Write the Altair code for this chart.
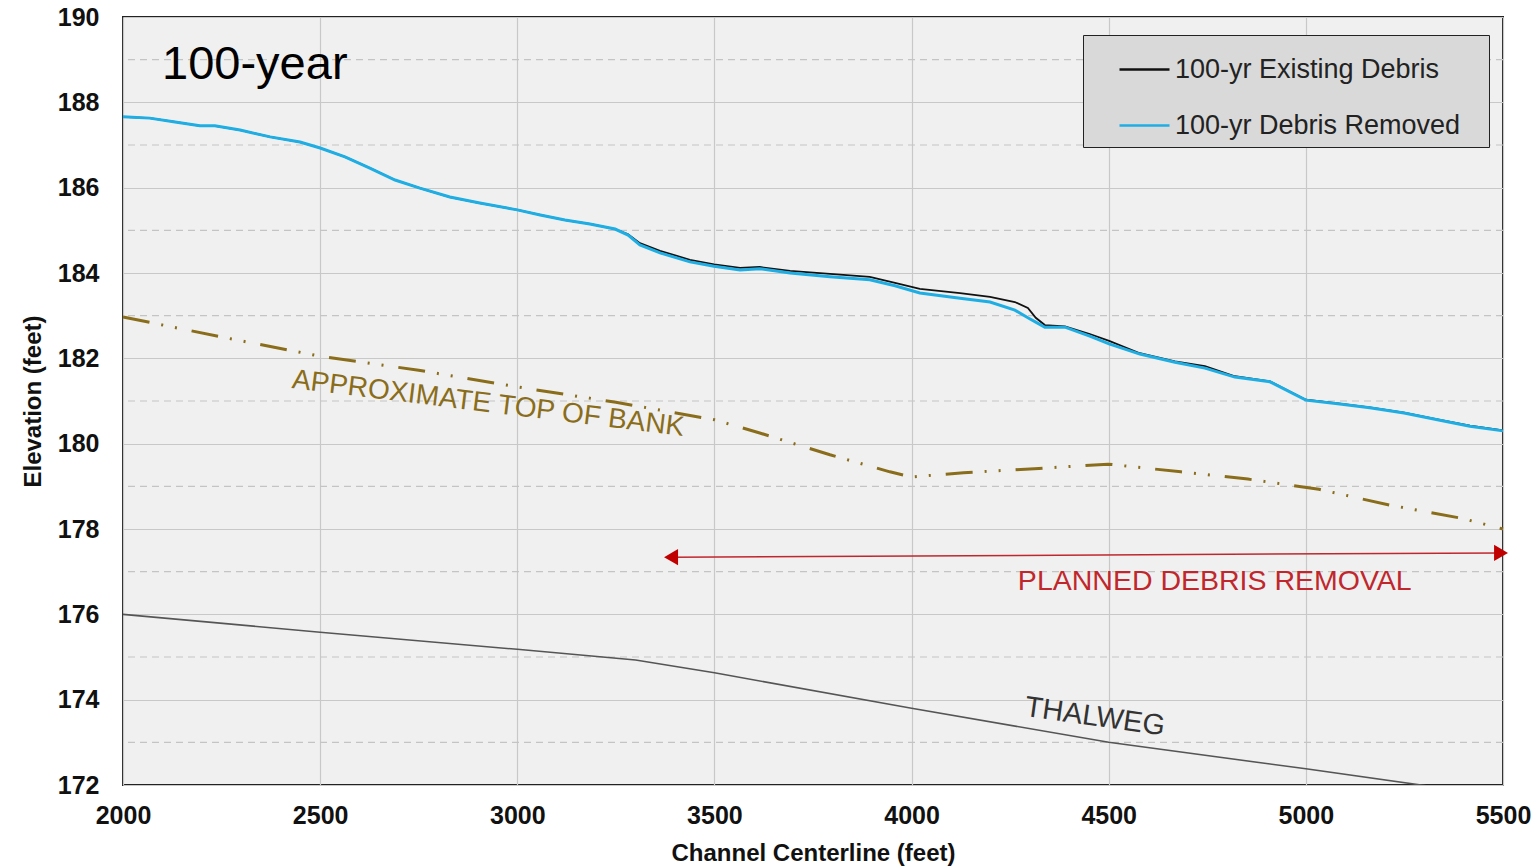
import altair as alt
import pandas as pd

# ---- data ----
ws_x = [2000, 2068, 2132, 2195, 2233, 2297, 2373, 2449, 2500, 2563, 2626, 2690, 2753, 2829, 2905,
        3000, 3058, 3121, 3184, 3248, 3281, 3311, 3362, 3438, 3499, 3565, 3615, 3692, 3793, 3894,
        3958, 4021, 4123, 4199, 4262, 4295, 4315, 4338, 4389, 4452, 4501, 4579, 4668, 4744, 4820,
        4909, 5000, 5086, 5162, 5249, 5340, 5416, 5500]
removed_y = [187.66, 187.63, 187.54, 187.45, 187.45, 187.35, 187.19, 187.07, 186.93, 186.72, 186.46,
             186.18, 185.99, 185.78, 185.64, 185.48, 185.36, 185.24, 185.15, 185.03, 184.89, 184.66,
             184.47, 184.26, 184.16, 184.07, 184.10, 184.00, 183.91, 183.84, 183.70, 183.53, 183.41,
             183.32, 183.13, 182.95, 182.85, 182.73, 182.73, 182.52, 182.34, 182.10, 181.91, 181.77,
             181.56, 181.45, 181.02, 180.93, 180.84, 180.72, 180.55, 180.41, 180.30]
existing_y = [187.66, 187.63, 187.54, 187.45, 187.45, 187.35, 187.19, 187.07, 186.93, 186.72, 186.46,
              186.18, 185.99, 185.78, 185.64, 185.48, 185.36, 185.24, 185.15, 185.03, 184.91, 184.70,
              184.52, 184.31, 184.20, 184.12, 184.14, 184.05, 183.98, 183.91, 183.77, 183.63, 183.53,
              183.44, 183.32, 183.18, 182.95, 182.78, 182.75, 182.57, 182.41, 182.12, 181.93, 181.82,
              181.58, 181.46, 181.03, 180.94, 180.85, 180.73, 180.56, 180.42, 180.31]
series_names = ["100-yr Existing Debris", "100-yr Debris Removed"]
series_colors = ["#111111", "#1eaee4"]

bank_x = [2000, 2250, 2500, 2750, 3000, 3250, 3500, 3615, 3793, 3945, 4000, 4132, 4323, 4498,
          4683, 4853, 5033, 5213, 5396, 5500]
bank_y = [182.97, 182.50, 182.05, 181.72, 181.33, 180.97, 180.56, 180.25, 179.74, 179.34, 179.22,
          179.32, 179.42, 179.52, 179.34, 179.17, 178.93, 178.56, 178.25, 178.00]

thalweg_x = [2000, 2500, 3000, 3300, 3500, 4000, 4500, 5000, 5330, 5500]
thalweg_y = [176.0, 175.58, 175.18, 174.93, 174.63, 173.80, 173.0, 172.38, 171.95, 171.72]

arrow_x = [3390, 5495]
arrow_y = [177.34, 177.44]

odd_grid = [173, 175, 177, 179, 181, 183, 185, 187, 189]
y_ticks = [172, 174, 176, 178, 180, 182, 184, 186, 188, 190]
x_ticks = [2000, 2500, 3000, 3500, 4000, 4500, 5000, 5500]

notes_text = ["APPROXIMATE TOP OF BANK", "THALWEG", "PLANNED DEBRIS REMOVAL"]
notes_x = [2926, 4465, 4769]
notes_y = [180.93, 173.6, 176.78]
notes_angle = [7, 8, 0]
notes_color = ["#8a6d1a", "#333333", "#c0272d"]
notes_size = [28, 29, 28.5]

title_text = ["100-year"]
title_x = [2099]
title_y = [188.87]

FONT = "Liberation Sans"

# ---- tables ----
ws = pd.DataFrame({
    "x": ws_x * 2,
    "y": existing_y + removed_y,
    "series": [series_names[0]] * len(ws_x) + [series_names[1]] * len(ws_x),
})
bank = pd.DataFrame({"x": bank_x, "y": bank_y})
thal = pd.DataFrame({"x": thalweg_x, "y": thalweg_y})
arrow = pd.DataFrame({"x": arrow_x, "y": arrow_y})
arrow_heads = pd.DataFrame({"x": arrow_x, "y": arrow_y, "shape": ["triangle-left", "triangle-right"]})
odd = pd.DataFrame({"y": odd_grid})
notes = pd.DataFrame({"t": notes_text, "x": notes_x, "y": notes_y})
ttl = pd.DataFrame({"t": title_text, "x": title_x, "y": title_y})

xs = alt.Scale(domain=[2000, 5500], nice=False, zero=False)
ys = alt.Scale(domain=[172, 190], nice=False, zero=False)

X = alt.X("x:Q", scale=xs, title="Channel Centerline (feet)",
          axis=alt.Axis(values=x_ticks, grid=True, labelFlush=False, labelOverlap=False,
                        labelPadding=18, titlePadding=13, format="d"))
Y = alt.Y("y:Q", scale=ys, title="Elevation (feet)",
          axis=alt.Axis(values=y_ticks, grid=True, labelFlush=False, labelOverlap=False,
                        labelPadding=24, titlePadding=12, format="d"))

odd_rules = alt.Chart(odd).mark_rule(color="#c4c4c4", strokeWidth=1.2, strokeDash=[7, 5]).encode(
    y=alt.Y("y:Q", scale=ys)
)

thal_line = alt.Chart(thal).mark_line(color="#555555", strokeWidth=1.6, clip=True).encode(x=X, y=Y)

bank_line = alt.Chart(bank).mark_line(color="#8a6d1a", strokeWidth=3,
                                      strokeDash=[27, 12, 2, 12, 2, 15]).encode(x=X, y=Y)

color = alt.Color("series:N",
                  scale=alt.Scale(domain=series_names, range=series_colors),
                  legend=alt.Legend(title=" ", titleOrient="right", titlePadding=21,
                                    titleFontSize=10,
                                    orient="none", legendX=960, legendY=18,
                                    fillColor="#d9d9d9", strokeColor="#222222",
                                    padding=8, symbolType="stroke", symbolSize=2500,
                                    symbolStrokeWidth=2.5, symbolOffset=27,
                                    labelFont=FONT, labelFontSize=27, labelColor="#222222",
                                    labelOffset=4, rowPadding=16, labelLimit=400))

existing_line = alt.Chart(ws).transform_filter(
    alt.datum.series == series_names[0]
).mark_line(strokeWidth=1.8).encode(x=X, y=Y, color=color)

removed_line = alt.Chart(ws).transform_filter(
    alt.datum.series == series_names[1]
).mark_line(strokeWidth=3).encode(x=X, y=Y, color=color)

arrow_line = alt.Chart(arrow).mark_line(color="#c0272d", strokeWidth=1.5).encode(x=X, y=Y)
arrow_pts = alt.Chart(arrow_heads).mark_point(filled=True, color="#c00000", size=260, opacity=1).encode(
    x=X, y=Y, shape=alt.Shape("shape:N", scale=None)
)

note_layers = []
for i in range(len(notes_text)):
    note_layers.append(
        alt.Chart(notes.iloc[[i]]).mark_text(
            font=FONT, fontSize=notes_size[i], angle=notes_angle[i], color=notes_color[i],
            align="center", baseline="middle"
        ).encode(x=X, y=Y, text="t:N")
    )

title_mark = alt.Chart(ttl).mark_text(font=FONT, fontSize=47, color="#000000",
                                      align="left", baseline="middle").encode(x=X, y=Y, text="t:N")

chart = alt.layer(
    odd_rules, thal_line, bank_line, existing_line, removed_line, arrow_line, arrow_pts,
    *note_layers, title_mark
).properties(
    width=1380, height=768,
    padding={"left": 123, "top": 17, "right": 34, "bottom": 83},
    autosize="none",
    background="white",
).configure_view(
    fill="#f0f0f0", stroke="#222222", strokeWidth=2
).configure_axis(
    labelFont=FONT, labelFontSize=25, labelFontWeight="bold", labelColor="#111111",
    titleFont=FONT, titleFontSize=24, titleFontWeight="bold", titleColor="#111111",
    ticks=False, domain=False, gridColor="#c8c8c8", gridWidth=1.2
)

chart.save("out.html", embed_options={"renderer": "svg", "actions": False})
